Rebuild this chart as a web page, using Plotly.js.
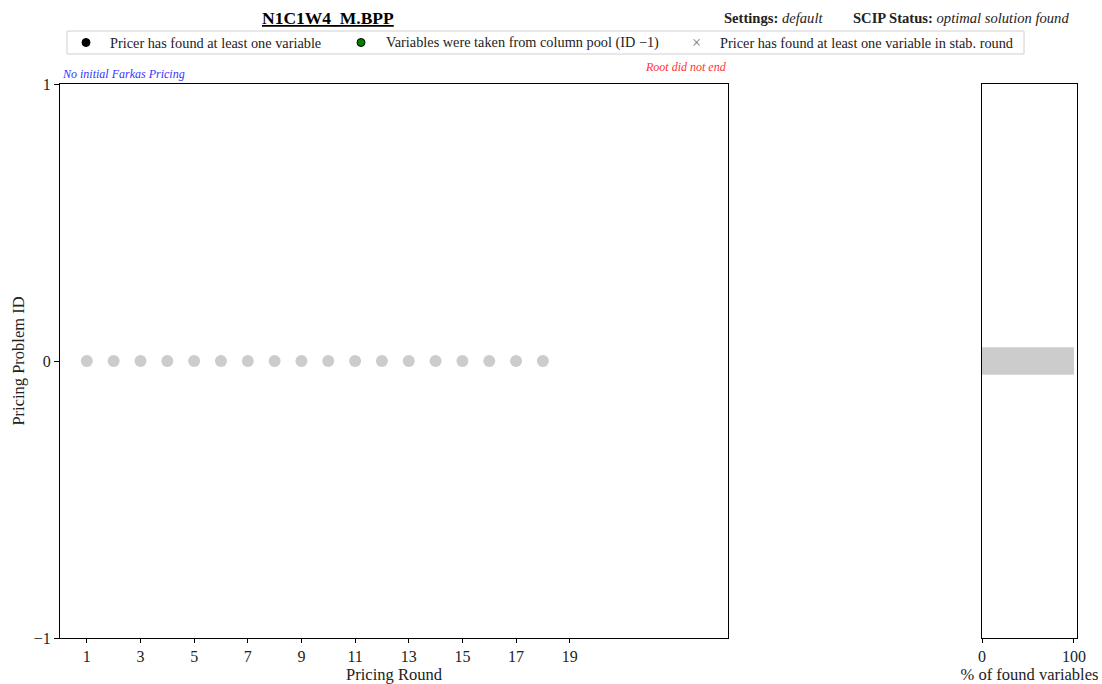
<!DOCTYPE html>
<html>
<head>
<meta charset="utf-8">
<script src="https://cdn.plot.ly/plotly-3.0.1.min.js"></script>
<style>html,body{margin:0;padding:0;background:#fff;}</style>
</head>
<body>
<div id="chart" style="width:1102px;height:684px;"></div>
<script>
// ---- data ----
const rounds = [1,2,3,4,5,6,7,8,9,10,11,12,13,14,15,16,17,18];
const problemIds = [0,0,0,0,0,0,0,0,0,0,0,0,0,0,0,0,0,0];
const barProblemIds = [0];
const foundPercent = [100];
const xTickVals = [1,3,5,7,9,11,13,15,17,19];
const yTickVals = [-1,0,1];
const yTickText = ['\u22121','0','1'];
const legendLabels = [
  'Pricer has found at least one variable',
  'Variables were taken from column pool (ID \u22121)',
  'Pricer has found at least one variable in stab. round'
];

const FONT = 'Liberation Serif, DejaVu Serif, serif';
const W = 1102, H = 684, ML = 60, MR = 25, MT = 84, MB = 46;
const PW = W - ML - MR, PH = H - MT - MB;
const px = x => (x - ML) / PW;
const py = y => (H - MB - y) / PH;
const LEG = 14.3;

const traces = [
  {
    type: 'scatter', mode: 'markers', x: rounds, y: problemIds,
    marker: {color: '#cccccc', size: 12}, xaxis: 'x', yaxis: 'y',
    showlegend: false, hoverinfo: 'skip'
  },
  {
    type: 'bar', orientation: 'h', x: foundPercent, y: barProblemIds, width: 0.1,
    marker: {color: '#cccccc'}, xaxis: 'x2', yaxis: 'y2',
    showlegend: false, hoverinfo: 'skip'
  }
];

const axisCommon = {
  showgrid: false, zeroline: false, showline: true, linecolor: '#000', linewidth: 1,
  mirror: true, ticks: 'outside', ticklen: 4, tickcolor: '#000',
  tickfont: {family: FONT, size: 16, color: '#222'}
};

const layout = {
  width: W, height: H,
  margin: {l: ML, r: MR, t: MT, b: MB},
  paper_bgcolor: '#fff', plot_bgcolor: '#fff',
  showlegend: false,
  font: {family: FONT},
  xaxis: Object.assign({}, axisCommon, {
    domain: [0, px(728)], range: [0, 24.9], tickmode: 'array', tickvals: xTickVals,
    title: {text: 'Pricing Round', font: {family: FONT, size: 16.5, color: '#222'}, standoff: 4}
  }),
  yaxis: Object.assign({}, axisCommon, {
    range: [-1, 1], tickmode: 'array', tickvals: yTickVals, ticktext: yTickText, ticklen: 5,
    title: {text: 'Pricing Problem ID', font: {family: FONT, size: 16.5, color: '#222'}, standoff: 4}
  }),
  xaxis2: Object.assign({}, axisCommon, {
    domain: [px(982), 1], range: [0, 103.3], tickmode: 'array', tickvals: [0, 100],
    anchor: 'y2',
    title: {text: '% of found variables', font: {family: FONT, size: 16.5, color: '#222'}, standoff: 4}
  }),
  yaxis2: Object.assign({}, axisCommon, {
    range: [-1, 1], anchor: 'x2', ticks: '', showticklabels: false
  }),
  shapes: [
    {type: 'rect', xref: 'paper', yref: 'paper', x0: px(67), x1: px(1024), y0: py(54), y1: py(31),
     line: {color: '#d0d0d0', width: 1}, fillcolor: 'rgba(255,255,255,0.8)'},
    {type: 'circle', xref: 'paper', yref: 'paper', xsizemode: 'pixel', ysizemode: 'pixel',
     xanchor: px(86), yanchor: py(42.5), x0: -4, x1: 4, y0: -4, y1: 4,
     fillcolor: '#000', line: {color: '#000', width: 1}},
    {type: 'circle', xref: 'paper', yref: 'paper', xsizemode: 'pixel', ysizemode: 'pixel',
     xanchor: px(361), yanchor: py(42.5), x0: -4, x1: 4, y0: -4, y1: 4,
     fillcolor: '#008000', line: {color: '#000', width: 1}}
  ],
  annotations: [
    {xref: 'paper', yref: 'paper', x: px(328), y: py(18), text: '<b><u>N1C1W4_M.BPP</u></b>',
     showarrow: false, xanchor: 'center', yanchor: 'middle', font: {family: FONT, size: 17.5, color: '#000'}},
    {xref: 'paper', yref: 'paper', x: px(722), y: py(18), text: '<b>Settings:</b> <i>default</i>',
     showarrow: false, xanchor: 'left', yanchor: 'middle', font: {family: FONT, size: 14.6, color: '#222'}},
    {xref: 'paper', yref: 'paper', x: px(851), y: py(18), text: '<b>SCIP Status:</b> <i>optimal solution found</i>',
     showarrow: false, xanchor: 'left', yanchor: 'middle', font: {family: FONT, size: 14.6, color: '#222'}},
    {xref: 'paper', yref: 'paper', x: px(108), y: py(42.5), text: legendLabels[0],
     showarrow: false, xanchor: 'left', yanchor: 'middle', font: {family: FONT, size: LEG, color: '#222'}},
    {xref: 'paper', yref: 'paper', x: px(384), y: py(42.5), text: legendLabels[1],
     showarrow: false, xanchor: 'left', yanchor: 'middle', font: {family: FONT, size: LEG, color: '#222'}},
    {xref: 'paper', yref: 'paper', x: px(696), y: py(42.5), text: '\u00d7',
     showarrow: false, xanchor: 'center', yanchor: 'middle', font: {family: FONT, size: 16, color: '#777'}},
    {xref: 'paper', yref: 'paper', x: px(718), y: py(42.5), text: legendLabels[2],
     showarrow: false, xanchor: 'left', yanchor: 'middle', font: {family: FONT, size: LEG, color: '#222'}},
    {xref: 'paper', yref: 'paper', x: px(60), y: py(74), text: '<i>No initial Farkas Pricing</i>',
     showarrow: false, xanchor: 'left', yanchor: 'middle', font: {family: FONT, size: 12, color: '#3333ff'}},
    {xref: 'paper', yref: 'paper', x: px(729), y: py(67), text: '<i>Root did not end</i>',
     showarrow: false, xanchor: 'right', yanchor: 'middle', font: {family: FONT, size: 12, color: '#ff3333'}}
  ]
};

Plotly.newPlot('chart', traces, layout, {staticPlot: true, displayModeBar: false});
</script>
</body>
</html>
